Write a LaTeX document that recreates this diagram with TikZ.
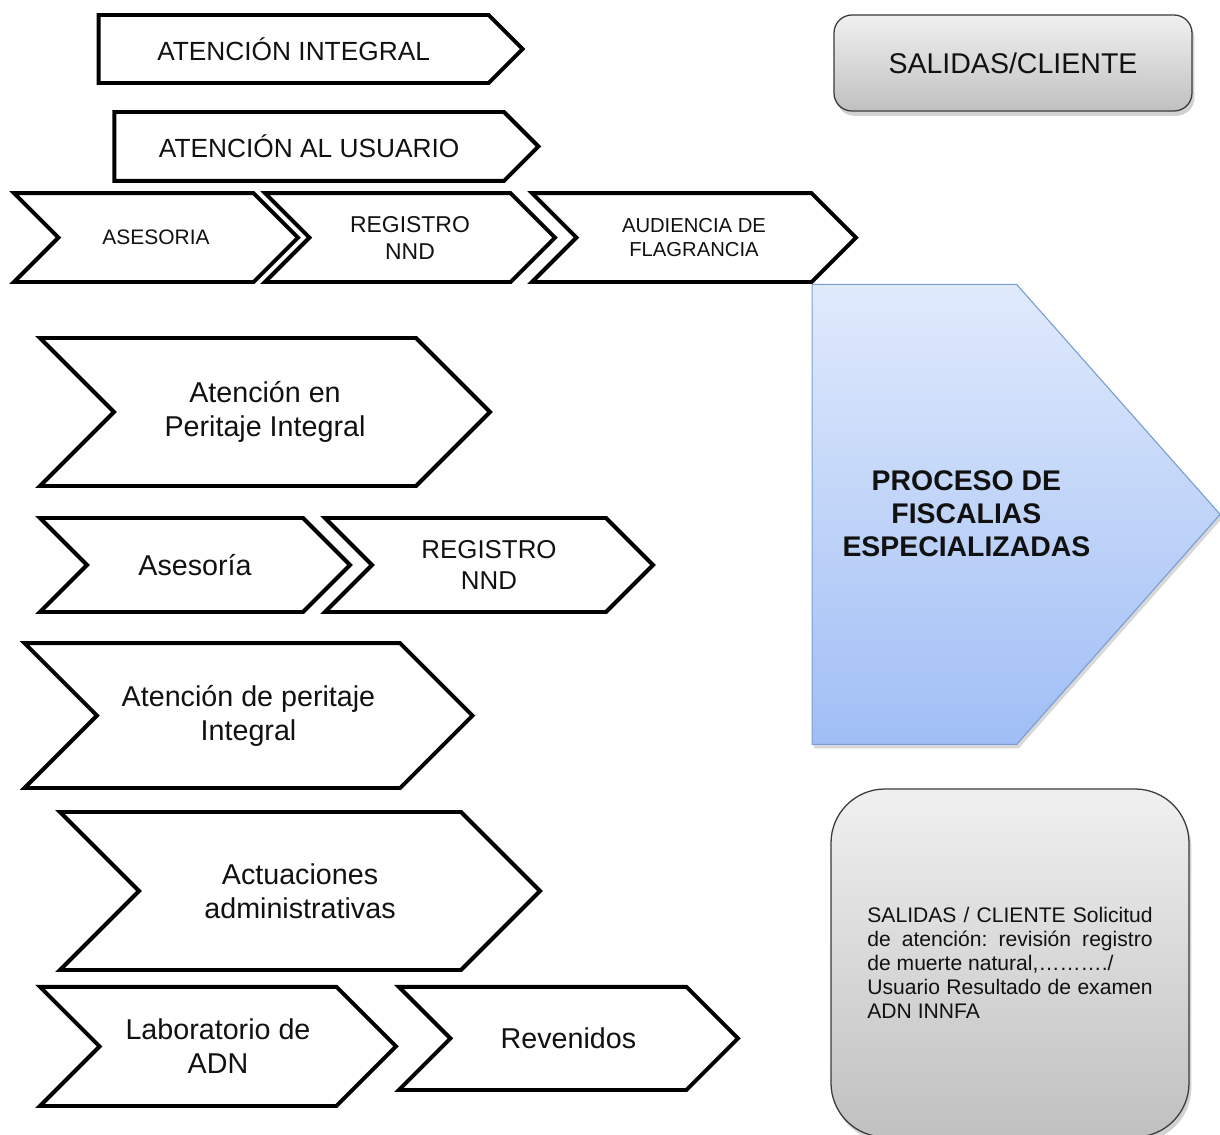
\documentclass[tikz,border=0pt]{standalone}
\usepackage{fontspec}
\setmainfont{Liberation Sans}
\usetikzlibrary{shapes.symbols,shadows,positioning}
\definecolor{inkblack}{HTML}{111111}
\definecolor{graytop}{HTML}{F0F0F0}
\definecolor{graybottom}{HTML}{C0C0C0}
\definecolor{grayline}{HTML}{3A3A3A}
\definecolor{bluetop}{HTML}{E0EAFC}
\definecolor{bluebottom}{HTML}{A0BEF5}
\definecolor{blueline}{HTML}{7A9ED4}
\newcommand{\txtsize}[2]{\fontsize{#1}{#2}\selectfont}

\begin{document}
\begin{tikzpicture}[
  text=inkblack,
  plate/.style={
    shape=signal,
    signal to=east,
    signal from=nowhere,
    signal pointer angle=90,
    draw=black,
    fill=white,
    line width=2.8pt,
    align=center,
    inner sep=0pt
  },
  chevron/.style={plate,signal from=west},
  softbox/.style={
    draw=grayline,
    line width=0.9pt,
    top color=graytop,
    bottom color=graybottom,
    drop shadow={shadow xshift=0.6mm,shadow yshift=-1.2mm,opacity=0.35}
  },
  process/.style={
    shape=signal,
    signal to=east,
    signal from=nowhere,
    signal pointer angle=97,
    draw=blueline,
    line width=0.8pt,
    top color=bluetop,
    bottom color=bluebottom,
    drop shadow={shadow xshift=0.5mm,shadow yshift=-1mm,opacity=0.3},
    inner sep=0pt
  }
]
  \fill[white] (0,0) rectangle (30.5,-28.375);
  \useasboundingbox (0,0) rectangle (30.5,-28.375);

  % right column
  \node[softbox,rounded corners=0.45cm,minimum width=8.95cm,minimum height=2.4cm,
        font=\txtsize{20.3}{24}] (sal) at (25.325,-1.575) {SALIDAS/CLIENTE};
  \node[process,minimum width=10.2cm,minimum height=11.5cm] (proc) at (22.86,-12.86) {};
  \node[align=center,font=\bfseries\txtsize{20.2}{23.5}] (proctxt) at (24.16,-12.85)
        {PROCESO DE\\FISCALIAS\\ESPECIALIZADAS};
  \node[softbox,rounded corners=1.35cm,minimum width=8.95cm,minimum height=8.7cm,
        text width=7.13cm,align=justify,font=\txtsize{15}{17}\frenchspacing] (out) at (25.25,-24.075)
        {SALIDAS / CLIENTE Solicitud de atención: revisión registro de muerte natural,………./\\Usuario Resultado de examen ADN INNFA};

  % top rows
  \node[plate,minimum width=10.6cm,minimum height=1.7cm,font=\txtsize{18.7}{22}] (ai) at (7.34,-1.225) {ATENCIÓN INTEGRAL};
  \node[plate,minimum width=10.6cm,minimum height=1.72cm,font=\txtsize{18.7}{22}] (au) at (7.73,-3.66) {ATENCIÓN AL USUARIO};

  \node[chevron,minimum width=7.1cm,minimum height=2.22cm,font=\txtsize{14.9}{18}] (ase1) at (3.9,-5.94) {ASESORIA};
  \node[chevron,minimum width=7.25cm,minimum height=2.22cm,font=\txtsize{16.3}{19.2}] (reg1) at (10.25,-5.94) {REGISTRO\\NND};
  \node[chevron,minimum width=8.1cm,minimum height=2.22cm,font=\txtsize{14.4}{17}] (aud) at (17.35,-5.94) {AUDIENCIA DE\\FLAGRANCIA};

  % lower chevrons
  \node[chevron,minimum width=11.25cm,minimum height=3.7cm,font=\txtsize{20.4}{24.2}] (aep) at (6.625,-10.3) {Atención en\\Peritaje Integral};
  \node[chevron,minimum width=7.75cm,minimum height=2.35cm,font=\txtsize{20.4}{24.2}] (ase2) at (4.875,-14.125) {Asesoría};
  \node[chevron,minimum width=8.2cm,minimum height=2.35cm,font=\txtsize{18.4}{22}] (reg2) at (12.225,-14.125) {REGISTRO\\NND};
  \node[chevron,minimum width=11.2cm,minimum height=3.62cm,font=\txtsize{20.4}{24.2}] (adp) at (6.2125,-17.89) {Atención de peritaje\\Integral};
  \node[chevron,minimum width=12cm,minimum height=3.95cm,font=\txtsize{20.4}{24.2}] (act) at (7.5,-22.275) {Actuaciones\\administrativas};
  \node[chevron,minimum width=8.9cm,minimum height=2.98cm,font=\txtsize{20.4}{24.2}] (lab) at (5.45,-26.16) {Laboratorio de\\ADN};
  \node[chevron,minimum width=8.48cm,minimum height=2.58cm,font=\txtsize{20.4}{24.2}] (rev) at (14.21,-25.96) {Revenidos};
\end{tikzpicture}
\end{document}
